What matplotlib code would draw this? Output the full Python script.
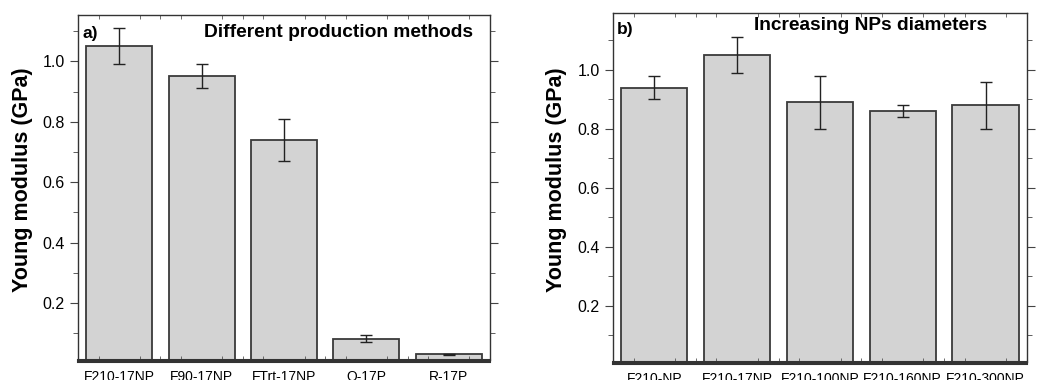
# python 3
# Young modulus bar charts, two panels

import matplotlib
matplotlib.use("Agg")
import matplotlib.pyplot as plt
from matplotlib.ticker import MultipleLocator
from matplotlib.lines import Line2D

plt.rcParams['font.family'] = ['Liberation Sans', 'DejaVu Sans']

# panel a: different production methods
labels_a = ["F210-17NP", "F90-17NP", "FTrt-17NP", "O-17P", "R-17P"]
values_a = [1.05, 0.95, 0.74, 0.082, 0.031]
errors_a = [0.06, 0.04, 0.07, 0.012, 0.002]

# panel b: increasing NPs diameters
labels_b = ["F210-NP", "F210-17NP", "F210-100NP", "F210-160NP", "F210-300NP"]
values_b = [0.94, 1.05, 0.89, 0.86, 0.88]
errors_b = [0.04, 0.06, 0.09, 0.02, 0.08]

BAR_FACE = "#d3d3d3"
BAR_EDGE = "#3a3a3a"


def draw_panel(ax, labels, values, errors, letter, title, ylim, letter_y, title_x, title_y):
	x = range(len(labels))
	ax.bar(x, values, width=0.8, color=BAR_FACE, edgecolor=BAR_EDGE, linewidth=1.3,
	       yerr=errors, capsize=4, error_kw=dict(ecolor="#222222", elinewidth=1, capthick=1))
	ax.set_xlim(-0.5, len(labels) - 0.5)
	ax.set_ylim(*ylim)
	ax.set_xticks(list(x))
	ax.set_xticklabels(labels, fontsize=10)
	ax.xaxis.set_minor_locator(MultipleLocator(0.25))
	ax.tick_params(axis='x', which='major', length=0, pad=7)
	ax.tick_params(axis='x', which='minor', direction='in', length=3, top=True, bottom=True, color="#555555")
	ax.yaxis.set_minor_locator(MultipleLocator(0.1))
	ax.set_yticks([0.2, 0.4, 0.6, 0.8, 1.0])
	ax.set_yticklabels(["0.2", "0.4", "0.6", "0.8", "1.0"])
	ax.tick_params(axis='y', which='both', direction='out', left=True, right=True, labelsize=11.5, color="#444444")
	ax.tick_params(axis='y', which='major', length=6)
	ax.tick_params(axis='y', which='minor', length=3.5)
	for s in ax.spines.values():
		s.set_color("#333333")
		s.set_linewidth(1.0)
	ax.spines['bottom'].set_linewidth(1.5)
	# second line under the bottom axis
	ax.add_line(Line2D([0, 1], [-0.007, -0.007], transform=ax.transAxes, color="#333333",
	                   linewidth=1.5, clip_on=False))
	ax.set_ylabel("Young modulus (GPa)", fontsize=15.5, fontweight='bold')
	ax.yaxis.set_label_coords(-0.11, 0.524)
	ax.text(0.01, letter_y, letter, transform=ax.transAxes, fontsize=12.5, fontweight='bold', va='top', ha='left')
	ax.text(title_x, title_y, title, transform=ax.transAxes, fontsize=13.8, fontweight='bold', va='top', ha='right')


def main():
	fig = plt.figure(figsize=(10.48, 3.8), dpi=100)
	ax_a = fig.add_axes([0.0744, 0.0526, 0.3931, 0.9079])
	ax_b = fig.add_axes([0.5849, 0.0474, 0.3950, 0.9176])
	draw_panel(ax_a, labels_a, values_a, errors_a, "a)", "Different production methods",
	           (0.012, 1.153), 0.968, 0.96, 0.975)
	draw_panel(ax_b, labels_b, values_b, errors_b, "b)", "Increasing NPs diameters",
	           (0.01, 1.192), 0.974, 0.905, 0.99)
	fig.savefig("out.png", dpi=100)


if __name__ == "__main__":
	main()
